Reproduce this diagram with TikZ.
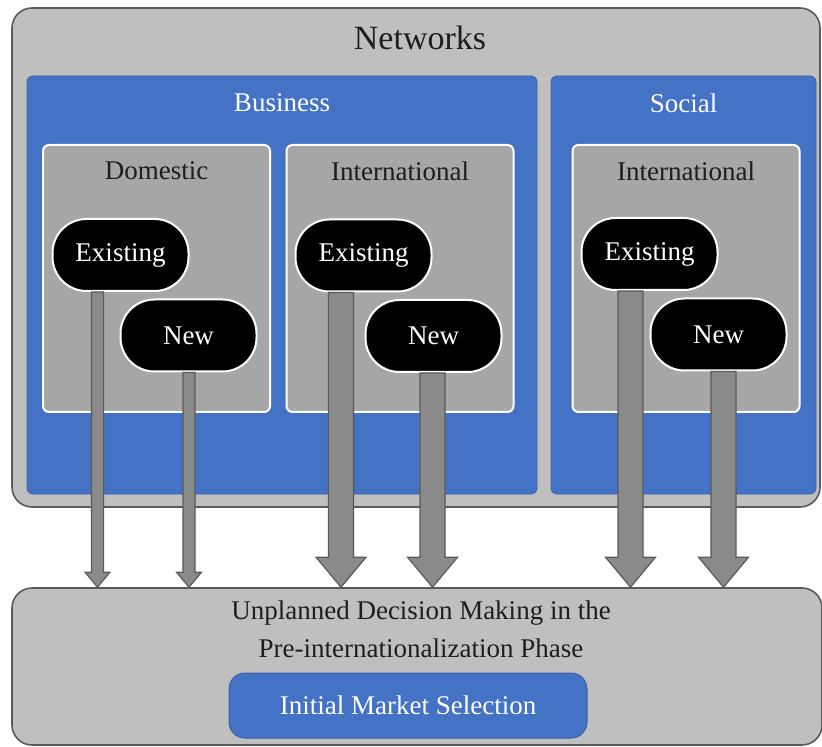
\documentclass[tikz,border=0pt]{standalone}
\usepackage{fontspec}
\setmainfont{Liberation Serif}
\usetikzlibrary{calc}
\definecolor{outergray}{HTML}{BFBFBF}
\definecolor{innergray}{HTML}{A6A6A6}
\definecolor{bblue}{HTML}{4472C4}
\definecolor{edgegray}{HTML}{5A5A5A}
\definecolor{arrgray}{HTML}{8A8A8A}
\definecolor{txtdark}{HTML}{1E1E1E}
\tikzset{
 outerbox/.style={draw=edgegray, line width=0.8pt, fill=outergray, rounded corners=10pt, inner sep=0pt},
 bluebox/.style={draw=bblue!85!black, line width=0.4pt, fill=bblue, rounded corners=3pt, inner sep=0pt, minimum height=209pt},
 innerbox/.style={draw=white, line width=1pt, fill=innergray, rounded corners=3pt, inner sep=0pt, minimum width=113.5pt, minimum height=133.5pt},
 pill/.style={draw=white, line width=1pt, fill=black, rounded corners=17pt, minimum width=68pt, minimum height=36pt, inner sep=0pt, text=white, font=\fontsize{13.5}{16}\selectfont},
 lbl/.style={font=\fontsize{13.5}{16}\selectfont, inner sep=0pt},
 fatarrow/.style={draw=edgegray, line width=0.6pt, fill=arrgray, line join=miter},
}
\newcommand\blockarr[5]{%
 \draw[fatarrow] ($(#1)+(-#3,0)$) -- ($(#1)+(#3,0)$) -- ($(#2)+(#3,-#5)$) -- ($(#2)+(#4,-#5)$) -- (#2) -- ($(#2)+(-#4,-#5)$) -- ($(#2)+(-#3,-#5)$) -- cycle;}
\begin{document}
\begin{tikzpicture}[x=0.5pt,y=-0.5pt]
\useasboundingbox[fill=white] (0,0) rectangle (822,747);
% outer networks box
\node[outerbox, minimum width=404pt, minimum height=249.5pt] (net) at (416,257.5) {};
\node[lbl, font=\fontsize{17}{20}\selectfont, text=txtdark] (nett) at (420,38) {Networks};
% blue boxes
\node[bluebox, minimum width=255pt] (bus) at (282,285) {};
\node[lbl, text=white] (bust) at (282,103) {Business};
\node[bluebox, minimum width=132.5pt] (soc) at (683.5,285) {};
\node[lbl, text=white] (soct) at (683.5,103) {Social};
% inner boxes
\node[innerbox] (dom) at (156.5,278.5) {};
\node[lbl, text=txtdark] (domt) at (156.5,171) {Domestic};
\node[innerbox] (bint) at (400,278.5) {};
\node[lbl, text=txtdark] (bintt) at (400,171) {International};
\node[innerbox] (sint) at (686,278.5) {};
\node[lbl, text=txtdark] (sintt) at (686,171) {International};
% bottom box
\node[outerbox, minimum width=405pt, minimum height=78.5pt] (bot) at (417,666.5) {};
\node[lbl, text=txtdark, align=center] (bott1) at (421,613) {Unplanned Decision Making in the};
\node[lbl, text=txtdark, align=center] (bott2) at (421,648) {Pre-internationalization Phase};
\node[draw=bblue!85!black, line width=0.5pt, fill=bblue, rounded corners=8pt, minimum width=179pt, minimum height=32.5pt, inner sep=0pt, text=white, font=\fontsize{13.5}{16}\selectfont] (ims) at (408,705.5) {Initial Market Selection};
% pills
\node[pill] (de) at (120.5,255) {Existing};
\node[pill] (dn) at (188.5,335.5) {New};
\node[pill] (be) at (363.5,255.5) {Existing};
\node[pill] (bn) at (433.5,336) {New};
\node[pill] (se) at (649.5,254) {Existing};
\node[pill] (sn) at (718.5,334.5) {New};
% arrow coordinates
\coordinate (deS) at ($(de.south)+(-23,0)$);
\coordinate (deE) at (deS |- bot.north);
\coordinate (dnS) at ($(dn.south)+(0.5,0)$);
\coordinate (dnE) at (dnS |- bot.north);
\coordinate (beS) at ($(be.south)+(-22.5,0)$);
\coordinate (beE) at (beS |- bot.north);
\coordinate (bnS) at ($(bn.south)+(-1,0)$);
\coordinate (bnE) at (bnS |- bot.north);
\coordinate (seS) at ($(se.south)+(-19,0)$);
\coordinate (seE) at (seS |- bot.north);
\coordinate (snS) at ($(sn.south)+(5,0)$);
\coordinate (snE) at (snS |- bot.north);
% arrows
\blockarr{deS}{deE}{6}{12.5}{15}
\blockarr{dnS}{dnE}{6}{12.5}{15}
\blockarr{beS}{beE}{12.5}{25}{30}
\blockarr{bnS}{bnE}{12.5}{25}{30}
\blockarr{seS}{seE}{12.5}{25}{30}
\blockarr{snS}{snE}{12.5}{25}{30}
\end{tikzpicture}
\end{document}
